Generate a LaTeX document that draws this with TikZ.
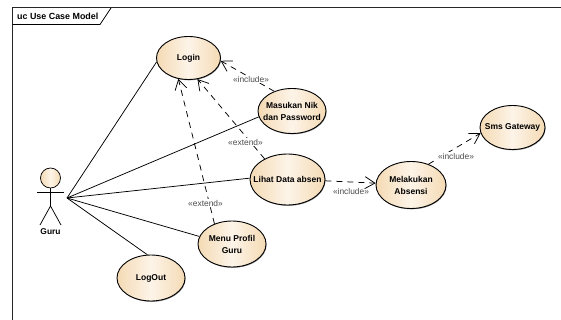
\documentclass[tikz,border=0pt]{standalone}
\usepackage{fontspec}
\setmainfont{Liberation Sans}
\usetikzlibrary{shapes.geometric,arrows.meta,shadows}
\definecolor{ucedge}{HTML}{F4DAB4}
\definecolor{ucmid}{HTML}{FDF4E8}
\tikzset{
  uc/.style={ellipse,draw=black,line width=0.9pt,inner sep=-22pt,align=center,
    left color=ucedge,right color=ucedge,middle color=ucmid,
    font=\fontsize{8.5}{12}\selectfont\bfseries,
    drop shadow={shadow xshift=0.6pt,shadow yshift=-0.8pt,opacity=.45,fill=black}},
  assoc/.style={line width=0.75pt,black},
  dep/.style={line width=0.75pt,black,dash pattern=on 6pt off 5pt,
    -{Straight Barb[length=10pt,width=12pt,line width=0.75pt]}},
  stereo/.style={font=\fontsize{8.4}{9}\selectfont,text=black!70,inner sep=0.5pt},
  lbl/.style={font=\fontsize{8.4}{9}\selectfont\bfseries,inner sep=0pt},
  frameln/.style={line width=0.9pt,black!85}
}
\begin{document}
\begin{tikzpicture}[x=1pt,y=-1pt]
\useasboundingbox[fill=white] (0,0) rectangle (561,320);
% frame
\draw[frameln] (561,7.5) -- (12.5,7.5) -- (12.5,320);
\draw[line width=0.75pt] (12.5,24.5) -- (100,24.5) -- (111,8) ;
\node[lbl,anchor=west,font=\fontsize{8.9}{9}\selectfont\bfseries] (title) at (17,16) {uc Use Case Model};
% use cases
\node[uc,minimum width=64pt,minimum height=43pt] (login) at (188.5,58) {Login};
\node[uc,minimum width=68pt,minimum height=45pt] (nik) at (292,111) {Masukan Nik\\dan Password};
\node[uc,minimum width=75pt,minimum height=51pt] (lihat) at (287.5,179.5) {Lihat Data absen};
\node[uc,minimum width=70pt,minimum height=47pt] (absensi) at (411,185) {Melakukan\\Absensi};
\node[uc,minimum width=65pt,minimum height=44pt] (sms) at (512.5,127.5) {Sms Gateway};
\node[uc,minimum width=68pt,minimum height=46pt] (profil) at (232,244) {Menu Profil\\Guru};
\node[uc,minimum width=68pt,minimum height=46pt] (logout) at (151,278) {LogOut};
% actor
\node[circle,draw=black,line width=0.75pt,minimum size=20pt,inner sep=0pt,left color=ucedge,right color=ucedge,middle color=ucmid] (head) at (50.5,178) {};
\coordinate (hip) at (50.5,206);
\coordinate (port) at (67,198);
\draw[assoc] (head.south) -- (hip);
\draw[assoc] (37,192.5) -- (63.5,192.5);
\draw[assoc] (40,225) -- (hip) -- (61,225);
\node[lbl] (guru) at (50.5,232) {Guru};
% associations
\draw[assoc] (port) -- (login.187);
\draw[assoc] (port) -- (nik.190);
\draw[assoc] (port) -- (lihat.178);
\draw[assoc] (port) -- (profil.167);
\draw[assoc] (port) -- (logout.99);
% dependencies
\draw[dep] (nik.132) -- (login.-5);
\draw[dep] (lihat.138) -- (login.-67);
\draw[dep] (profil.131) -- (login.244);
\draw[dep] (lihat.-2) -- (absensi.177);
\draw[dep] (absensi.50) -- (sms.190);
% labels
\node[stereo,fill=white] (s1) at (251,79.5) {«include»};
\node[stereo,fill=white] (s2) at (245.5,142) {«extend»};
\node[stereo,fill=white] (s3) at (205.5,203) {«extend»};
\node[stereo] (s4) at (351,191) {«include»};
\node[stereo,fill=white] (s5) at (456,156) {«include»};
\end{tikzpicture}
\end{document}
